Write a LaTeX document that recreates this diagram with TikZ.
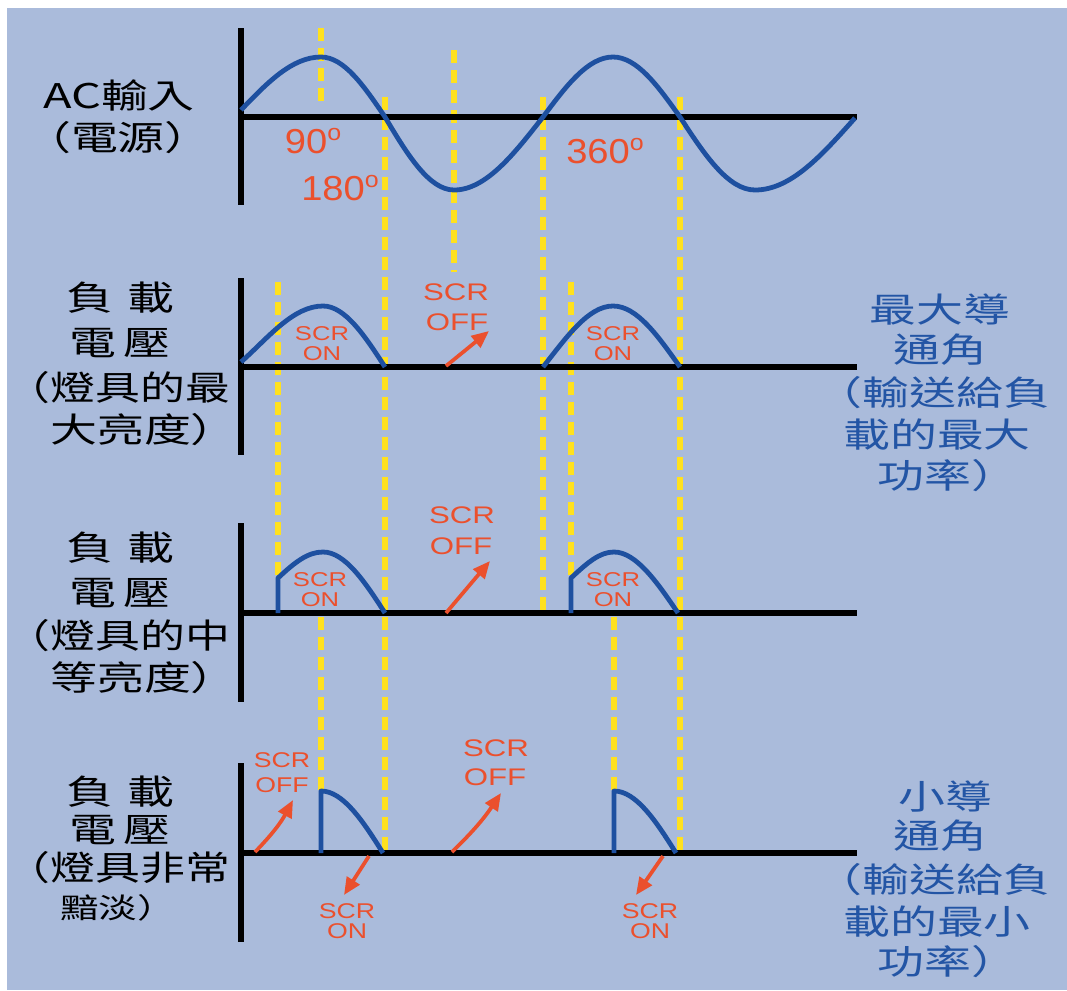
\documentclass[tikz,border=0pt]{standalone}
\usepackage{fontspec}
\setmainfont{Liberation Sans}
\newfontfamily\cjk{Noto Sans CJK TC}
\usetikzlibrary{arrows.meta}
\definecolor{bgblue}{RGB}{170,187,219}
\definecolor{wave}{RGB}{30,80,160}
\definecolor{dashy}{RGB}{255,225,30}
\definecolor{scrred}{RGB}{235,80,45}
\definecolor{lblue}{RGB}{35,85,165}
\newcommand{\dg}{\raisebox{10pt}{\fontsize{17}{17}\selectfont o}}
\begin{document}
\begin{tikzpicture}[x=0.75pt,y=-0.75pt,
  axis/.style={line width=4.2pt, black},
  wavestyle/.style={line width=3.6pt, wave, line join=round},
  guide/.style={line width=4.2pt, dashy, dash pattern=on 9.75pt off 5.25pt},
  arr/.style={line width=2.8pt, scrred, -{Triangle[length=13pt,width=11pt]}},
  lab/.style={font=\cjk\fontsize{25.5}{32}\selectfont, inner sep=0pt, xscale=1.38, text=black},
  plab/.style={lab, xscale=1.32/1.38},
  rlab/.style={lab, text=lblue},
  deg/.style={font=\fontsize{26}{30}\selectfont, inner sep=0pt, xscale=1.1, text=scrred},
  offlab/.style={font=\fontsize{18}{22}\selectfont, inner sep=0pt, xscale=1.3, text=scrred},
  onlab/.style={font=\fontsize{15}{18}\selectfont, inner sep=0pt, xscale=1.28, text=scrred},
  smlab/.style={font=\fontsize{16}{20}\selectfont, inner sep=0pt, xscale=1.25, text=scrred}
]
\useasboundingbox (0,0) rectangle (1067,990);
\fill[white] (0,0) rectangle (1067,990);
\fill[bgblue] (7,8) rectangle (1067,990);

% yellow guide lines
\draw[guide] (321,28) -- (321,103);
\draw[guide] (385,97) -- (385,850);
\draw[guide] (454,50) -- (454,272);
\draw[guide] (543,97) -- (543,610);
\draw[guide] (680,97) -- (680,850);
\draw[guide] (278,282) -- (278,578);
\draw[guide] (571,282) -- (571,578);
\draw[guide] (321,617) -- (321,790);
\draw[guide] (614,617) -- (614,790);

% axes
\draw[axis] (241,28) -- (241,205);
\draw[axis] (241,117) -- (857,117);
\draw[axis] (241,278) -- (241,455);
\draw[axis] (241,367) -- (857,367);
\draw[axis] (241,523) -- (241,702);
\draw[axis] (241,613) -- (857,613);
\draw[axis] (241,763) -- (241,942);
\draw[axis] (241,853) -- (857,853);

% AC wave
\draw[wavestyle] (241,110) .. controls (267,83) and (292,57) .. (321,57)
 .. controls (344,57) and (364,86) .. (385,117)
 .. controls (407,154) and (429,190) .. (454,190)
 .. controls (486,190) and (514,154) .. (543,117)
 .. controls (566,86) and (588,57) .. (613,57)
 .. controls (637,57) and (658,86) .. (680,117)
 .. controls (704,154) and (728,190) .. (755,190)
 .. controls (791,190) and (822,155) .. (855,118);

% panel 2
\draw[wavestyle] (241,362) .. controls (268,338) and (293,306) .. (323,306) .. controls (345,306) and (365,336) .. (385,367);
\draw[wavestyle] (543,367) .. controls (566,338) and (588,306) .. (613,306) .. controls (637,306) and (658,336) .. (680,367);
% panel 3
\draw[wavestyle] (278,613) -- (278,578) .. controls (295,562) and (308,552) .. (323,552) .. controls (345,552) and (365,582) .. (385,613);
\draw[wavestyle] (571,613) -- (571,578) .. controls (588,562) and (600,552) .. (614,552) .. controls (636,552) and (657,582) .. (678,613);
% panel 4
\draw[wavestyle] (321,853) -- (321,791) .. controls (343,791) and (363,821) .. (383,853);
\draw[wavestyle] (614,853) -- (614,791) .. controls (636,791) and (656,821) .. (676,853);

% arrows
\coordinate (a2s) at (446,366); \coordinate (a2e) at (489,331);
\coordinate (a3s) at (446,613); \coordinate (a3e) at (490,561);
\coordinate (a4s) at (255,852); \coordinate (a4e) at (293,800);
\coordinate (a5s) at (452,852); \coordinate (a5e) at (501,793);
\coordinate (a6s) at (369,856); \coordinate (a6e) at (344,895);
\coordinate (a7s) at (663,856); \coordinate (a7e) at (636,895);
\draw[arr] (a2s) -- (a2e);
\draw[arr] (a3s) -- (a3e);
\draw[arr] (a4s) to[bend right=8] (a4e);
\draw[arr] (a5s) to[bend right=6] (a5e);
\draw[arr] (a6s) -- (a6e);
\draw[arr] (a7s) -- (a7e);

% degree labels
\node[deg] (d90) at (313,141) {90\dg};
\node[deg] (d180) at (340,188) {180\dg};
\node[deg] (d360) at (605,151) {360\dg};

% SCR labels panel 2
\node[onlab] (p2on1a) at (322,334) {SCR};
\node[onlab] (p2on1b) at (322,354) {ON};
\node[onlab] (p2on2a) at (613,334) {SCR};
\node[onlab] (p2on2b) at (613,354) {ON};
\node[offlab] (p2offa) at (456,292) {SCR};
\node[offlab] (p2offb) at (457,322) {OFF};
% panel 3
\node[onlab] (p3on1a) at (320,580) {SCR};
\node[onlab] (p3on1b) at (320,600) {ON};
\node[onlab] (p3on2a) at (613,580) {SCR};
\node[onlab] (p3on2b) at (613,600) {ON};
\node[offlab] (p3offa) at (462,515) {SCR};
\node[offlab] (p3offb) at (461,546) {OFF};
% panel 4
\node[smlab] (p4off1a) at (282,760) {SCR};
\node[smlab] (p4off1b) at (282,785) {OFF};
\node[offlab] (p4off2a) at (496,748) {SCR};
\node[offlab] (p4off2b) at (495,777) {OFF};
\node[smlab] (p4on1a) at (347,911) {SCR};
\node[smlab] (p4on1b) at (347,931) {ON};
\node[smlab] (p4on2a) at (650,911) {SCR};
\node[smlab] (p4on2b) at (650,931) {ON};

% left labels
\node[lab] (l1a) at (119,95) {AC輸入};
\node[lab] (l1b) at (118,138) {（電源）};
\node[lab] (l2a) at (120,298) {負\hspace{0.3em}載};
\node[lab] (l2b) at (120,343) {電\hspace{0.15em}壓};
\node[plab] (l2c) at (118,388) {（燈具的最};
\node[lab] (l2d) at (144,430) {大亮度）};
\node[lab] (l3a) at (120,548) {負\hspace{0.3em}載};
\node[lab] (l3b) at (120,593) {電\hspace{0.15em}壓};
\node[plab] (l3c) at (118,636) {（燈具的中};
\node[lab] (l3d) at (144,678) {等亮度）};
\node[lab] (l4a) at (120,792) {負\hspace{0.3em}載};
\node[lab] (l4b) at (120,830) {電\hspace{0.15em}壓};
\node[plab] (l4c) at (118,868) {（燈具非常};
\node[lab, font=\cjk\fontsize{21}{26}\selectfont] (l4d) at (118,908) {黯淡）};

% right labels
\node[rlab] (r1a) at (940,310) {最大導};
\node[rlab] (r1b) at (940,350) {通角};
\node[rlab] (r1c) at (933,393) {（輸送給負};
\node[rlab] (r1d) at (937,435) {載的最大};
\node[rlab] (r1e) at (948,476) {功率）};
\node[rlab] (r2a) at (945,797) {小導};
\node[rlab] (r2b) at (940,836) {通角};
\node[rlab] (r2c) at (933,880) {（輸送給負};
\node[rlab] (r2d) at (937,922) {載的最小};
\node[rlab] (r2e) at (948,962) {功率）};
\end{tikzpicture}
\end{document}
